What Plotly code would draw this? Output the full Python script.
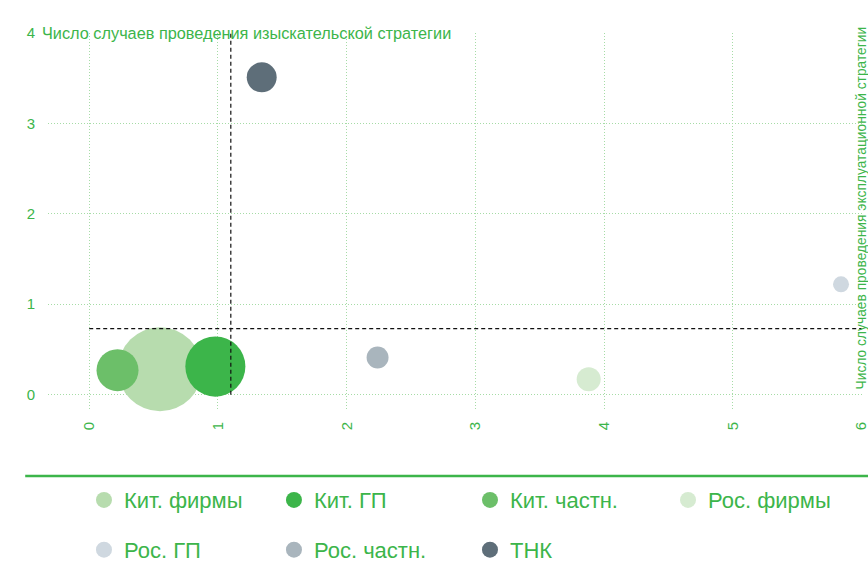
import plotly.graph_objects as go

# ---- data ----
series_names = ["Кит. фирмы", "Кит. ГП", "Кит. частн.", "Рос. фирмы",
                "Рос. ГП", "Рос. частн.", "ТНК"]
x_exploit = [0.55, 0.98, 0.22, 3.88, 5.84, 2.24, 1.34]
y_explore = [0.28, 0.31, 0.27, 0.17, 1.22, 0.41, 3.51]
bubble_size = [44, 22.5, 11, 3.6, 1.6, 3.0, 5.6]
colors = ["#b7dcae", "#3cb54a", "#6cbf69", "#d6ebd1",
          "#cfd8e0", "#a9b5bd", "#5e6e79"]

x_ticks = [0, 1, 2, 3, 4, 5, 6]
y_ticks = [0, 1, 2, 3, 4]
threshold_x = 1.1
threshold_y = 0.73

y_title = "Число случаев проведения изыскательской стратегии"
x_title = "Число случаев проведения эксплуатационной стратегии"

GREEN = "#3cb54a"
GRID = "#a6dca6"
FONT = "Liberation Sans, Arial, sans-serif"

sizeref = 2 * max(bubble_size) / 84 ** 2

# legend slot positions (paper coords): 4 columns, 2 rows
legend_cols = [0.0442, 0.2776, 0.5184, 0.7617]
legend_rows = [-0.239, -0.371]

fig = go.Figure()
layout_legends = {}
for i, name in enumerate(series_names):
    key = "legend" if i == 0 else f"legend{i + 1}"
    fig.add_trace(go.Scatter(
        x=[x_exploit[i]], y=[y_explore[i]], mode="markers", name=name,
        marker=dict(size=[bubble_size[i]], sizemode="area", sizeref=sizeref,
                    color=colors[i], opacity=1, line=dict(width=0)),
        legendgroup=name, showlegend=False, cliponaxis=False,
        hovertemplate=name + ": (%{x}, %{y})<extra></extra>",
    ))
    # legend entry with a fixed-size swatch
    fig.add_trace(go.Scatter(
        x=[None], y=[None], mode="markers", name=name,
        marker=dict(size=16, color=colors[i]),
        legendgroup=name, showlegend=True, legend=key, hoverinfo="skip",
    ))
    layout_legends[key] = dict(
        x=legend_cols[i % 4], y=legend_rows[i // 4],
        xanchor="left", yanchor="middle", orientation="h",
        font=dict(size=22, color=GREEN, family=FONT),
        bgcolor="rgba(0,0,0,0)", itemsizing="trace",
    )

# threshold lines
fig.add_shape(type="line", x0=threshold_x, x1=threshold_x, y0=0, y1=4,
              xref="x", yref="y", line=dict(color="#111", width=1.2, dash="4px,3px"))
fig.add_shape(type="line", x0=0, x1=6, y0=threshold_y, y1=threshold_y,
              xref="x", yref="y", line=dict(color="#111", width=1.2, dash="4px,3px"))
# separator line above legend
fig.add_shape(type="line", x0=-0.028, x1=1.01, y0=-0.175, y1=-0.175,
              xref="paper", yref="paper", line=dict(color=GREEN, width=2.5))

fig.add_annotation(text=y_title, xref="paper", yref="y", x=-0.0098, y=4,
                   xanchor="left", yanchor="middle", showarrow=False,
                   font=dict(size=16.3, color=GREEN, family=FONT))
fig.add_annotation(text=x_title, xref="paper", yref="y", x=1, y=0.03,
                   xanchor="center", yanchor="bottom", textangle=-90, xshift=-1,
                   showarrow=False, font=dict(size=13.8, color=GREEN, family=FONT))

fig.update_layout(
    width=868, height=562,
    margin=dict(l=48, r=6, t=33, b=152, autoexpand=False),
    paper_bgcolor="white", plot_bgcolor="white",
    font=dict(family=FONT, color=GREEN),
    showlegend=True,
    xaxis=dict(range=[-0.32, 6.003], tickvals=x_ticks, tickangle=-90,
               showgrid=True, gridcolor=GRID, griddash="1px,2px", gridwidth=1,
               zeroline=False, showline=False, ticks="",
               ticklabelstandoff=8, ticklabeloverflow="allow",
               tickfont=dict(size=15, color=GREEN, family=FONT)),
    yaxis=dict(range=[-0.17, 4.0], tickvals=y_ticks,
               showgrid=True, gridcolor=GRID, griddash="1px,2px", gridwidth=1,
               zeroline=False, showline=False, ticks="",
               ticklabelstandoff=12,
               tickfont=dict(size=15, color=GREEN, family=FONT)),
    **layout_legends,
)

fig.write_html("out.html",
               config={"displayModeBar": False},
               post_script="document.body.style.margin='0';"
                           "document.body.style.overflow='hidden';")
